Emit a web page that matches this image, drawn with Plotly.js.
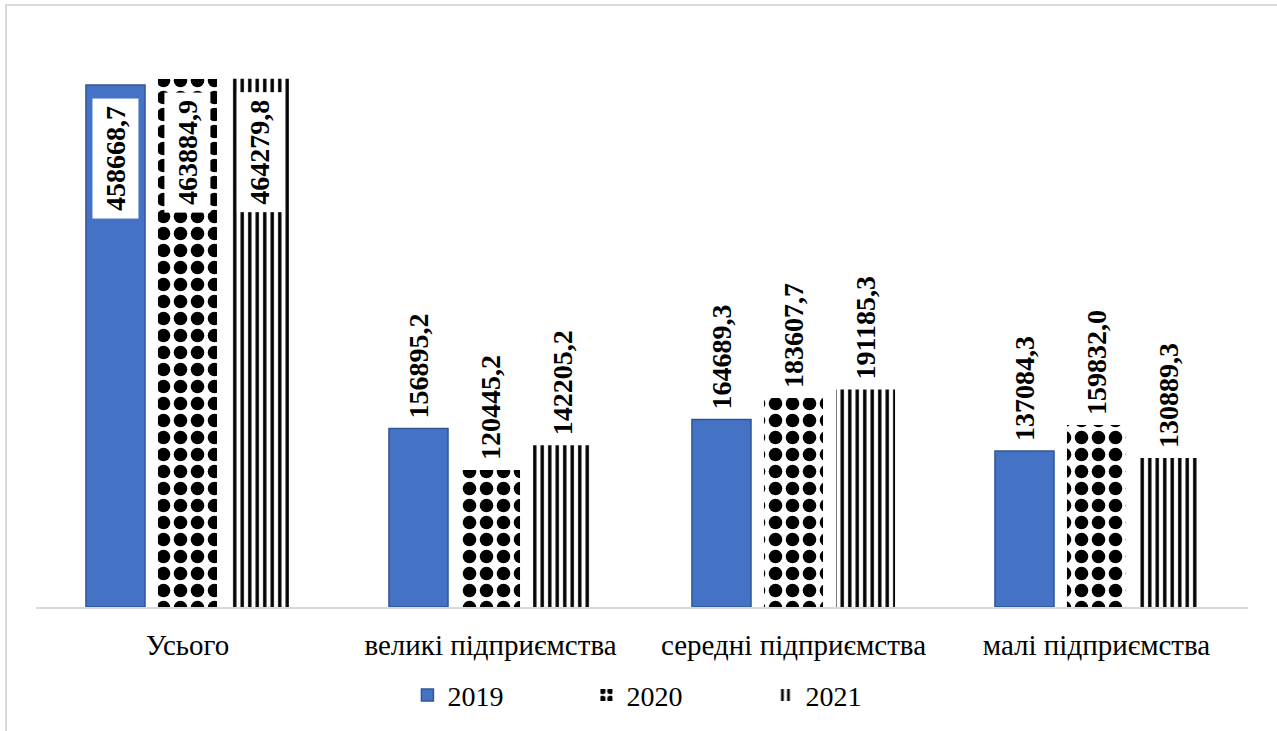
<!DOCTYPE html>
<html>
<head>
<meta charset="utf-8">
<script src="https://cdn.plot.ly/plotly-3.0.1.min.js"></script>
<style>
  html, body { margin: 0; padding: 0; background: #fff; }
  #wrap { position: relative; width: 1277px; height: 731px; }
  #chart { width: 1277px; height: 731px; }
  #frame { position: absolute; left: 5px; top: 4px; right: -4px; bottom: -4px;
           border: 2px solid #d9d9d9; pointer-events: none; }
</style>
</head>
<body>
<div id="wrap">
  <div id="chart"></div>
  <div id="frame"></div>
</div>
<script>
const categories = ['Усього', 'великі підприємства', 'середні підприємства', 'малі підприємства'];
const seriesNames = ['2019', '2020', '2021'];
const v2019 = [458668.7, 156895.2, 164689.3, 137084.3];
const v2020 = [463884.9, 120445.2, 183607.7, 159832.0];
const v2021 = [464279.8, 142205.2, 191185.3, 130889.3];

const fmt = v => v.toFixed(1).replace('.', ',');
const FONT = 'Liberation Serif';

const values = [v2019, v2020, v2021];
const markers = [
  { color: '#4472C4', line: { color: '#2F5597', width: 1.5 } },
  { color: '#ffffff', line: { width: 0 },
    pattern: { shape: '.', fgcolor: '#000000', bgcolor: '#ffffff', fgopacity: 1, size: 17, solidity: 0.5, fillmode: 'replace' } },
  { color: '#ffffff', line: { width: 0 },
    pattern: { shape: '|', fgcolor: '#000000', bgcolor: '#ffffff', fgopacity: 1, size: 7.5, solidity: 0.45, fillmode: 'replace' } }
];

const traces = values.map((vals, i) => ({
  type: 'bar',
  name: seriesNames[i],
  x: categories,
  y: vals,
  marker: markers[i],
  text: vals.map((v, j) => j === 0 ? '' : '\u00a0' + fmt(v)),
  textposition: 'outside',
  textangle: -90,
  constraintext: 'none',
  cliponaxis: false,
  textfont: { family: FONT, size: 28, color: '#000', weight: 'bold' },
  hoverinfo: 'x+y'
}));

// labels inside the first group, drawn on white boxes
const shifts = [-72, 0, 72];
const annotations = values.map((vals, i) => ({
  x: categories[0],
  y: vals[0],
  xref: 'x', yref: 'y',
  text: fmt(vals[0]),
  textangle: -90,
  showarrow: false,
  xanchor: 'center',
  yanchor: 'top',
  xshift: shifts[i],
  yshift: -13,
  bgcolor: '#ffffff',
  borderpad: 7,
  font: { family: FONT, size: 28, color: '#000', weight: 'bold' }
}));

const layout = {
  width: 1277,
  height: 731,
  margin: { l: 36, r: 29, t: 38, b: 123 },
  paper_bgcolor: '#ffffff',
  plot_bgcolor: '#ffffff',
  barmode: 'group',
  bargap: 0.287,
  bargroupgap: 0.18,
  showlegend: true,
  legend: {
    orientation: 'h',
    x: 0.528, xanchor: 'center',
    y: -0.153, yanchor: 'middle',
    entrywidth: 134,
    itemwidth: 30,
    font: { family: FONT, size: 28, color: '#000' },
    traceorder: 'normal'
  },
  xaxis: {
    showline: true,
    linecolor: '#d9d9d9',
    linewidth: 2,
    ticks: '',
    ticklabelstandoff: 11,
    tickfont: { family: FONT, size: 29, color: '#000' },
    showgrid: false,
    zeroline: false
  },
  yaxis: {
    range: [0, 500000],
    showticklabels: false,
    showgrid: false,
    zeroline: false,
    showline: false,
    ticks: ''
  },
  annotations: annotations
};

Plotly.newPlot('chart', traces, layout, { displayModeBar: false, staticPlot: true });
</script>
</body>
</html>
